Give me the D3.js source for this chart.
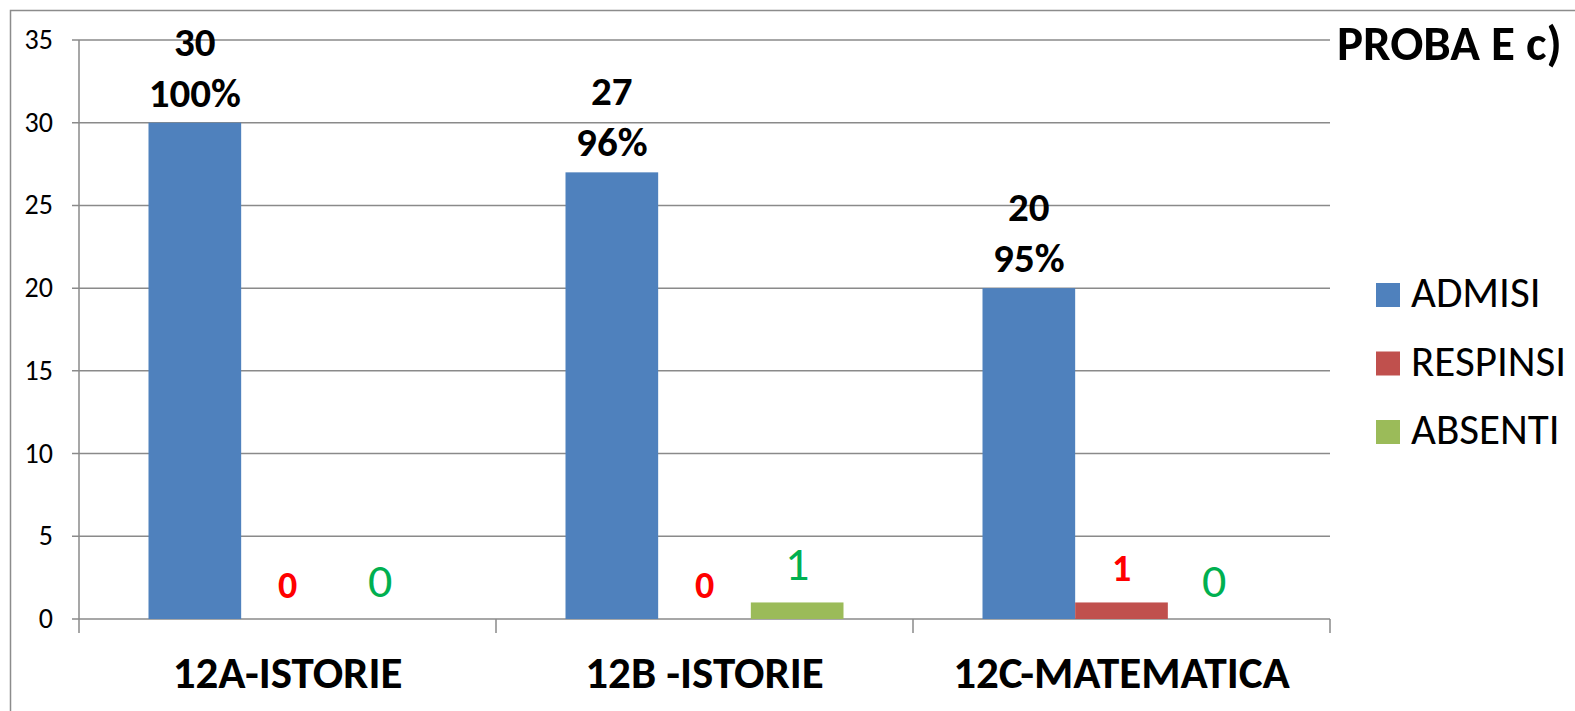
<!DOCTYPE html>
<html>
<head>
<meta charset="utf-8">
<script src="https://cdn.jsdelivr.net/npm/d3@7"></script>
<style>
  body { margin: 0; background: #fff; }
  text { font-family: Carlito, Lato, 'Open Sans', sans-serif; }
</style>
</head>
<body>
<script>
var classes = ['12A-ISTORIE', '12B -ISTORIE', '12C-MATEMATICA']
var series = ['ADMISI', 'RESPINSI', 'ABSENTI']
var admisi = [30, 27, 20]
var respinsi = [0, 0, 1]
var absenti = [0, 1, 0]
var admisiPct = ['100%', '96%', '95%']
var yTicks = [0, 5, 10, 15, 20, 25, 30, 35]

var colors = {ADMISI: '#4F81BD', RESPINSI: '#C0504D', ABSENTI: '#9BBB59'}
var labelColors = {ADMISI: '#000', RESPINSI: '#FF0000', ABSENTI: '#00B050'}

var rows = []
classes.forEach(function(c, i){
  rows.push({cls: c, s: 'ADMISI', v: admisi[i], pct: admisiPct[i]})
  rows.push({cls: c, s: 'RESPINSI', v: respinsi[i]})
  rows.push({cls: c, s: 'ABSENTI', v: absenti[i]})
})

var svg = d3.select('body').append('svg').attr('width', 1575).attr('height', 711)

// outer frame
svg.append('rect').attr('x', 10.5).attr('y', 10.5).attr('width', 1620).attr('height', 800)
  .style('fill', 'none').style('stroke', '#8c8c8c').style('stroke-width', 1.5)

var x = d3.scaleBand().domain(classes).range([79, 1330])
var x1 = d3.scaleBand().domain(series).range([0, x.bandwidth()]).paddingOuter(0.75)
var y = d3.scaleLinear().domain([0, 35]).range([619, 40])

// gridlines
svg.append('g').selectAll('line').data(yTicks).enter().append('line')
  .attr('x1', 72).attr('x2', 1330)
  .attr('y1', function(d){ return y(d) }).attr('y2', function(d){ return y(d) })
  .style('stroke', '#8a8a8a').style('stroke-width', 1.5)

svg.append('g').selectAll('text').data(yTicks).enter().append('text')
  .attr('x', 53).attr('y', function(d){ return y(d) + 9 })
  .attr('text-anchor', 'end').style('font-size', '28px')
  .text(function(d){ return d })

// axes lines
svg.append('line').attr('x1', 79).attr('x2', 79).attr('y1', y(35)).attr('y2', 633)
  .style('stroke', '#8a8a8a').style('stroke-width', 1.5)
svg.append('g').selectAll('line').data(classes).enter().append('line')
  .attr('x1', function(d){ return x(d) + x.bandwidth() }).attr('x2', function(d){ return x(d) + x.bandwidth() })
  .attr('y1', y(0)).attr('y2', 633)
  .style('stroke', '#8a8a8a').style('stroke-width', 1.5)

var bx = function(d){ return x(d.cls) + x1(d.s) }

svg.append('g').selectAll('rect').data(rows.filter(function(d){ return d.v > 0 })).enter().append('rect')
  .attr('x', bx).attr('width', x1.bandwidth())
  .attr('y', function(d){ return y(d.v) }).attr('height', function(d){ return y(0) - y(d.v) })
  .style('fill', function(d){ return colors[d.s] })

// value labels
var lab = svg.append('g').selectAll('g').data(rows).enter().append('g')
  .attr('transform', function(d){ return 'translate(' + (bx(d) + x1.bandwidth() / 2) + ',' + y(d.v) + ')' })
  .style('fill', function(d){ return labelColors[d.s] })
  .attr('text-anchor', 'middle')

lab.filter(function(d){ return d.s == 'ADMISI' }).each(function(d){
  var g = d3.select(this)
  g.append('text').attr('y', -67).style('font-size', '41px').style('font-weight', 'bold').text(d.v)
  g.append('text').attr('y', -16).style('font-size', '41px').style('font-weight', 'bold').text(d.pct)
})
lab.filter(function(d){ return d.s == 'RESPINSI' }).append('text')
  .attr('y', -21).style('font-size', '38px').style('font-weight', 'bold')
  .text(function(d){ return d.v })
lab.filter(function(d){ return d.s == 'ABSENTI' }).append('text')
  .attr('y', -22).style('font-size', '48px')
  .text(function(d){ return d.v })

// category labels
svg.append('g').selectAll('text').data(classes).enter().append('text')
  .attr('x', function(d){ return x(d) + x.bandwidth() / 2 }).attr('y', 688)
  .attr('text-anchor', 'middle').style('font-size', '45px').style('font-weight', 'bold')
  .text(function(d){ return d })

svg.append('text').attr('x', 1337).attr('y', 60)
  .style('font-size', '49px').style('font-weight', 'bold').text('PROBA E c)')

// legend
var leg = svg.append('g').selectAll('g').data(series).enter().append('g')
  .attr('transform', function(d, i){ return 'translate(1376,' + (283 + i * 68.5) + ')' })
leg.append('rect').attr('width', 24).attr('height', 24).style('fill', function(d){ return colors[d] })
leg.append('text').attr('x', 35).attr('y', 24).style('font-size', '43px').text(function(d){ return d })
</script>
</body>
</html>
